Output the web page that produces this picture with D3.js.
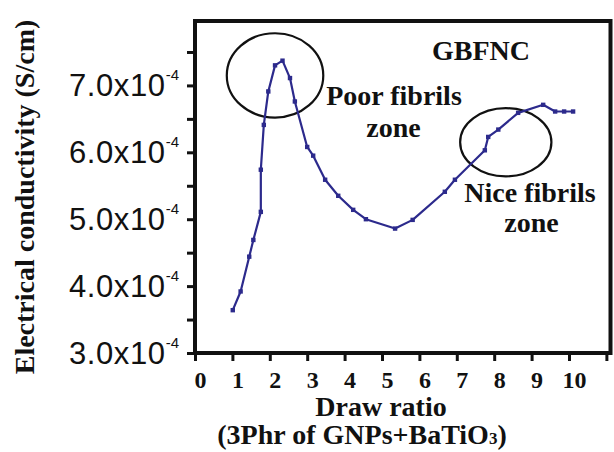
<!DOCTYPE html>
<html>
<head>
<meta charset="utf-8">
<script src="https://cdn.jsdelivr.net/npm/d3@7"></script>
<style>
  html, body { margin: 0; padding: 0; background: #fff; }
  svg { display: block; }
  .serif { font-family: "Liberation Serif", "Times New Roman", serif; font-weight: bold; fill: #111; }
  .sans { font-family: "Liberation Sans", Arial, sans-serif; fill: #111; }
</style>
</head>
<body>
<svg id="chart" width="614" height="452"></svg>
<script>
// ---- data (conductivity in units of 1e-4 S/cm) ----
const drawRatio = [1.01, 1.22, 1.45, 1.56, 1.76, 1.76, 1.84, 1.96, 2.14, 2.34, 2.54, 2.67, 3.00, 3.16, 3.48, 3.83, 4.23, 4.57, 5.35, 5.82, 6.68, 6.95, 7.75, 7.84, 8.11, 8.64, 9.31, 9.63, 9.87, 10.11];
const conductivity = [3.64, 3.92, 4.44, 4.69, 5.11, 5.74, 6.41, 6.91, 7.30, 7.37, 7.11, 6.76, 6.08, 5.95, 5.59, 5.35, 5.14, 5.00, 4.86, 4.99, 5.41, 5.59, 6.03, 6.23, 6.34, 6.59, 6.71, 6.61, 6.61, 6.61];
const xTickValues = [0, 1, 2, 3, 4, 5, 6, 7, 8, 9, 10, 11];
const xTickLabels = ["0", "1", "2", "3", "4", "5", "6", "7", "8", "9", "10", ""];
const yTickValues = [3.0, 3.5, 4.0, 4.5, 5.0, 5.5, 6.0, 6.5, 7.0, 7.5];
const yLabelValues = [3.0, 4.0, 5.0, 6.0, 7.0];
const zoneNames = ["Poor fibrils", "Nice fibrils"];
const zoneCentersX = [2.14, 8.31];
const zoneCentersY = [7.15, 6.15];
const zoneRadiiX = [1.29, 1.22];
const zoneRadiiY = [0.63, 0.51];

const svg = d3.select("#chart");
const mLeft = 195, mRight = 610.5, mTop = 21, mBottom = 353;
const x = d3.scaleLinear().domain([0, 11.11]).range([mLeft, mRight]);
const y = d3.scaleLinear().domain([3.0, 7.963]).range([mBottom, mTop]);
const color = "#2c2a8c";

// frame
svg.append("rect")
  .attr("x", mLeft).attr("y", mTop)
  .attr("width", mRight - mLeft).attr("height", mBottom - mTop)
  .attr("fill", "none").attr("stroke", "#111").attr("stroke-width", 4);

// x axis ticks
const xAxis = d3.axisBottom(x).tickValues(xTickValues).tickSizeInner(7).tickSizeOuter(0)
  .tickFormat((d, i) => xTickLabels[i]);
const gx = svg.append("g").attr("transform", `translate(0,${mBottom + 1})`).call(xAxis);
gx.select(".domain").remove();
gx.selectAll(".tick line").attr("stroke", "#111").attr("stroke-width", 3);
gx.selectAll(".tick text")
  .attr("class", "serif")
  .attr("font-size", 24)
  .attr("y", 0).attr("dy", 0)
  .attr("transform", "translate(5,34)")
  .attr("fill", "#111");

// y axis ticks
const yAxis = d3.axisLeft(y).tickValues(yTickValues).tickSizeInner(7).tickSizeOuter(0).tickFormat("");
const gy = svg.append("g").attr("transform", `translate(${mLeft - 1},0)`).call(yAxis);
gy.select(".domain").remove();
gy.selectAll(".tick line").attr("stroke", "#111").attr("stroke-width", 3);

// y labels with superscript
const yl = svg.append("g").selectAll("text").data(yLabelValues).join("text")
  .attr("class", "sans")
  .attr("text-anchor", "end")
  .attr("x", 179)
  .attr("y", d => y(d) + 11)
  .attr("font-size", 31)
  .attr("letter-spacing", 0.6);
yl.append("tspan").text(d => d3.format(".1f")(d) + "x10");
yl.append("tspan").attr("font-size", 15).attr("dy", -16).attr("letter-spacing", 0).text("-4");

// axis titles
svg.append("text").attr("class", "serif")
  .attr("transform", "translate(34,197) rotate(-90)")
  .attr("text-anchor", "middle").attr("font-size", 28)
  .text("Electrical conductivity (S/cm)");
svg.append("text").attr("class", "serif")
  .attr("x", 381).attr("y", 416).attr("text-anchor", "middle").attr("font-size", 28)
  .text("Draw ratio");
const sub = svg.append("text").attr("class", "serif")
  .attr("x", 362).attr("y", 444).attr("text-anchor", "middle").attr("font-size", 28);
sub.append("tspan").text("(3Phr of GNPs+BaTiO");
sub.append("tspan").attr("font-size", 17).text("3");
sub.append("tspan").text(")");

// zone ellipses
svg.append("g").selectAll("ellipse").data(zoneNames).join("ellipse")
  .attr("cx", (d, i) => x(zoneCentersX[i]))
  .attr("cy", (d, i) => y(zoneCentersY[i]))
  .attr("rx", (d, i) => x(zoneRadiiX[i]) - x(0))
  .attr("ry", (d, i) => y(3) - y(3 + zoneRadiiY[i]))
  .attr("fill", "none").attr("stroke", "#111").attr("stroke-width", 2.2);

// line
const pts = drawRatio.map((d, i) => [d, conductivity[i]]);
svg.append("path")
  .datum(pts)
  .attr("fill", "none").attr("stroke", color).attr("stroke-width", 2.2)
  .attr("stroke-linejoin", "round")
  .attr("d", d3.line().x(d => x(d[0])).y(d => y(d[1])));
svg.append("g").selectAll("rect").data(pts).join("rect")
  .attr("x", d => x(d[0]) - 2.2).attr("y", d => y(d[1]) - 2.2)
  .attr("width", 4.4).attr("height", 4.4).attr("fill", color);

// annotations
svg.append("text").attr("class", "serif").attr("x", 481).attr("y", 60)
  .attr("text-anchor", "middle").attr("font-size", 28).text("GBFNC");
const ann = [
  { t: zoneNames[0], x: 394, y: 105 },
  { t: "zone", x: 393.5, y: 137 },
  { t: zoneNames[1], x: 530, y: 202 },
  { t: "zone", x: 531.5, y: 232 }
];
svg.append("g").selectAll("text").data(ann).join("text")
  .attr("class", "serif")
  .attr("x", d => d.x).attr("y", d => d.y)
  .attr("text-anchor", "middle").attr("font-size", 28)
  .text(d => d.t);
</script>
</body>
</html>
